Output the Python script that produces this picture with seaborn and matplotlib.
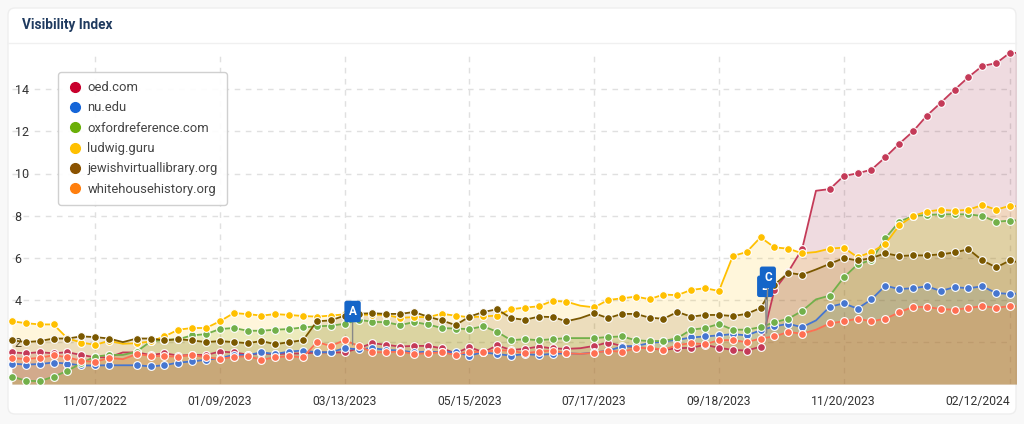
import matplotlib
matplotlib.use("Agg")
import matplotlib.pyplot as plt
from matplotlib.lines import Line2D
from matplotlib.patches import FancyBboxPatch
import pandas as pd
import seaborn as sns

# weekly values
oed = [1.50, 1.46, 1.51, 1.46, 1.51, 1.38, 1.27, 1.27, 1.50, 1.50, 1.38, 1.46, 1.35, 1.38, 1.38, 1.54, 1.50, 1.40, 1.45, 1.42, 1.45, 1.45, 1.50, 1.50,
       1.50, 1.70, 1.94, 1.86, 1.78, 1.81, 1.81, 1.70, 1.46, 1.75, 1.51, 1.83, 1.62, 1.67, 1.78, 1.69, 1.67, 1.70, 1.81, 1.97, 1.81, 1.75, 1.70, 1.62, 1.70,
       1.72, 1.86, 1.72, 1.62, 1.59, 1.77, 4.47, 5.33, 6.41, 9.18, 9.26, 9.88, 10.01, 10.18, 10.77, 11.41, 12.00, 12.75, 13.36, 13.98, 14.58, 15.11, 15.24, 15.74, 15.71]
nu = [0.97, 0.92, 0.95, 1.02, 0.97, 0.88, 0.88, 0.89, 0.89, 0.89, 0.84, 0.89, 1.02, 1.07, 1.15, 1.23, 1.38, 1.38, 1.50, 1.43, 1.54, 1.59, 1.51, 1.51,
      1.70, 1.65, 1.70, 1.62, 1.59, 1.50, 1.54, 1.51, 1.51, 1.35, 1.51, 1.42, 1.35, 1.42, 1.38, 1.43, 1.46, 1.43, 1.50, 1.58, 1.78, 1.81, 1.94, 2.02, 2.10,
      2.21, 2.26, 2.31, 2.37, 2.31, 2.55, 2.74, 2.86, 2.70, 3.02, 3.67, 3.83, 3.58, 4.02, 4.67, 4.51, 4.55, 4.64, 4.42, 4.60, 4.55, 4.64, 4.32, 4.28, 4.31]
oxford = [0.35, 0.16, 0.13, 0.35, 0.62, 0.99, 1.30, 1.38, 1.38, 1.54, 2.02, 2.10, 2.13, 2.31, 2.37, 2.61, 2.66, 2.53, 2.53, 2.58, 2.61, 2.69, 2.74, 2.77,
          2.86, 3.05, 2.96, 2.93, 2.80, 2.94, 2.83, 2.66, 2.63, 2.61, 2.74, 2.48, 2.08, 2.13, 2.08, 2.13, 2.18, 2.18, 2.18, 2.23, 2.26, 2.08, 2.04, 2.04, 2.18,
          2.58, 2.66, 2.85, 2.58, 2.58, 2.70, 2.93, 3.10, 3.47, 4.02, 4.20, 5.06, 5.68, 5.89, 6.92, 7.71, 7.98, 8.03, 8.06, 8.06, 8.06, 7.98, 7.71, 7.76, 7.79]
ludwig = [2.98, 2.89, 2.83, 2.83, 2.17, 1.97, 1.86, 2.05, 1.91, 1.94, 2.02, 2.26, 2.58, 2.66, 2.66, 2.98, 3.37, 3.32, 3.25, 3.32, 3.28, 3.23, 3.20, 3.25,
          3.31, 3.29, 3.29, 3.28, 3.14, 3.18, 3.18, 3.33, 3.25, 3.17, 3.21, 3.25, 3.55, 3.63, 3.69, 3.95, 3.91, 3.72, 3.64, 3.99, 4.07, 4.15, 4.03, 4.25, 4.22,
          4.47, 4.55, 4.42, 6.08, 6.27, 6.97, 6.49, 6.43, 6.21, 6.27, 6.43, 6.48, 6.02, 6.27, 6.65, 7.53, 7.98, 8.19, 8.28, 8.23, 8.28, 8.50, 8.28, 8.47, 8.42]
jewish = [2.08, 1.99, 2.04, 2.16, 2.16, 2.26, 2.23, 2.16, 1.99, 2.16, 2.16, 2.07, 2.13, 2.07, 1.99, 2.04, 1.99, 1.94, 2.04, 1.89, 1.99, 2.08, 2.98, 3.02,
          3.25, 3.34, 3.36, 3.33, 3.33, 3.42, 3.20, 3.02, 2.80, 3.20, 3.42, 3.55, 3.13, 3.05, 3.20, 3.18, 2.98, 3.13, 3.36, 3.13, 3.33, 3.33, 3.15, 3.10, 3.42,
          3.20, 3.28, 3.28, 3.23, 3.33, 3.61, 4.71, 5.28, 5.19, 5.44, 5.71, 5.98, 5.87, 5.98, 6.21, 6.08, 6.11, 6.11, 6.16, 6.25, 6.40, 5.87, 5.54, 5.87, 5.72]
whitehouse = [1.23, 1.19, 1.24, 1.37, 1.27, 1.10, 1.05, 1.24, 1.18, 1.42, 1.34, 1.32, 1.30, 1.38, 1.27, 1.19, 1.29, 1.32, 1.15, 1.27, 1.32, 1.27, 1.99, 1.81,
              2.08, 1.81, 1.51, 1.51, 1.54, 1.43, 1.46, 1.51, 1.38, 1.54, 1.51, 1.61, 1.58, 1.46, 1.54, 1.59, 1.46, 1.43, 1.48, 1.58, 1.53, 1.69, 1.73, 1.62, 1.85,
              1.94, 1.89, 2.08, 2.08, 1.99, 2.16, 2.26, 2.47, 2.39, 2.58, 2.88, 2.98, 3.10, 2.98, 3.10, 3.40, 3.66, 3.66, 3.56, 3.53, 3.61, 3.70, 3.62, 3.70, 3.70]

domains = ["oed.com", "nu.edu", "oxfordreference.com", "ludwig.guru", "jewishvirtuallibrary.org", "whitehousehistory.org"]
series = [oed, nu, oxford, ludwig, jewish, whitehouse]
legend_colors = ["#c8002d", "#1565d8", "#6aaf08", "#ffc000", "#8a5200", "#ff7f0e"]
line_colors = ["#c43a58", "#4676d0", "#72b04a", "#ffc000", "#7a5800", "#ff6f52"]
fill_colors = ["#90062a", "#1565d8", "#6aaf08", "#ffc000", "#7a4800", "#ff7828"]
fill_alphas = [0.14, 0.14, 0.14, 0.14, 0.14, 0.18]

tick_dates = ["2022-11-07", "2023-01-09", "2023-03-13", "2023-05-15", "2023-07-17", "2023-09-18", "2023-11-20", "2024-02-12"]
tick_labels = ["11/07/2022", "01/09/2023", "03/13/2023", "05/15/2023", "07/17/2023", "09/18/2023", "11/20/2023", "02/12/2024"]
y_ticks = [2, 4, 6, 8, 10, 12, 14]

# weeks without a dot on the line
no_dot = [8, 41, 58, 73]

flag_dates = ["2023-03-17", "2023-10-12", "2023-10-12"]
flag_values = [1.86, 2.43, 2.43]
flag_labels = ["A", "B", "C"]
flag_offsets = [(0, 24), (-1, 33.5), (1, 40)]

weeks = pd.date_range("2022-09-26", periods=74, freq="7D")
dots = [i for i in range(74) if i not in no_dot]

plt.rcParams["font.family"] = ["Roboto", "DejaVu Sans"]
fig = plt.figure(figsize=(10.24, 4.24), dpi=100, facecolor="#f8f8f8")

# the white card behind the chart
card = fig.add_axes([0, 0, 1, 1])
card.set_xlim(0, 1024)
card.set_ylim(424, 0)
card.axis("off")
card.add_patch(FancyBboxPatch((8, 8), 1008, 406, boxstyle="round,pad=0,rounding_size=7",
                              fc="white", ec="#eeeeee", lw=1))
card.plot([8, 1016], [43, 43], color="#f0f0f0", lw=1)
card.text(22, 25, "Visibility Index", color="#1f3a5f", fontsize=9.8, fontweight="bold", va="center")

ax = fig.add_axes([8 / 1024, (424 - 384) / 424, 1008 / 1024, 339 / 424])
ax.patch.set_alpha(0)
for values, fill, alpha in zip(series, fill_colors, fill_alphas):
    ax.fill_between(weeks, values, 0, color=fill, alpha=alpha, lw=0, zorder=2)
for values, color in zip(series, line_colors):
    df = pd.DataFrame({"week": weeks, "visibility": values})
    sns.lineplot(data=df, x="week", y="visibility", color=color, lw=1.3, marker="o", ms=5.6,
                 mec="white", mew=0.8, markevery=dots, errorbar=None, ax=ax, zorder=3, legend=False)

ax.set_xlim(pd.Timestamp("2022-09-24"), pd.Timestamp("2024-02-15"))
ax.set_ylim(0, 339 / 21.05)
ax.set_xlabel("")
ax.set_ylabel("")
for side in ax.spines:
    ax.spines[side].set_visible(False)

ticks = pd.to_datetime(tick_dates)
ax.set_xticks(ticks)
ax.set_xticklabels(tick_labels)
ax.set_yticks(y_ticks)
ax.tick_params(axis="both", length=0, colors="#333333")
ax.tick_params(axis="x", pad=8, labelsize=8.7)
ax.tick_params(axis="y", pad=-4.7, labelsize=9)
for label in ax.get_yticklabels():
    label.set_ha("left")
    label.set_zorder(6)
ax.get_xticklabels()[-1].set_ha("right")

ax.hlines(y_ticks, weeks[0], ticks[-1], color="#e0e0e0", lw=1, ls=(0, (4, 4)), zorder=1)
ax.vlines(ticks, 0, 15.75, color="#e0e0e0", lw=1, ls=(0, (4, 4)), zorder=1)

for date, value, text, offset in zip(flag_dates, flag_values, flag_labels, flag_offsets):
    ax.annotate(text, xy=(pd.Timestamp(date), value), xytext=offset, textcoords="offset points",
                color="white", fontsize=8.5, fontweight="bold", ha="center", va="center", zorder=5,
                bbox=dict(boxstyle="round,pad=0.36,rounding_size=0.2", fc="#1565c8", ec="none"),
                arrowprops=dict(arrowstyle="-", color="#888888", lw=1, shrinkA=0, shrinkB=0))

handles = [Line2D([], [], ls="", marker="o", ms=7, color=c) for c in legend_colors]
leg = ax.legend(handles, domains, loc="upper left", bbox_to_anchor=(58 / 1024, (424 - 72) / 424),
                bbox_transform=fig.transFigure, fontsize=9.4, labelcolor="#444444", framealpha=0.92,
                edgecolor="#cccccc", facecolor="white", labelspacing=0.56, handletextpad=0.35,
                handlelength=1.2, borderpad=0.7, borderaxespad=0, fancybox=True)
leg.set_zorder(7)

fig.savefig("out.png", dpi=100, facecolor=fig.get_facecolor())
